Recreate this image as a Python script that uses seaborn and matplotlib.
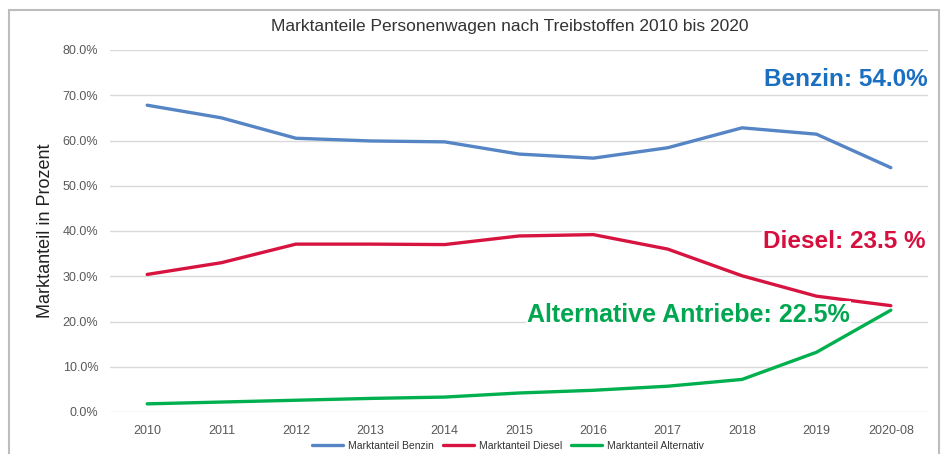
"""
Marktanteile Personenwagen nach Treibstoffen 2010 bis 2020
"""
import pandas as pd
import matplotlib.pyplot as plt
import seaborn as sns
from matplotlib.patches import Rectangle

# Daten
jahre = ['2010', '2011', '2012', '2013', '2014', '2015', '2016', '2017', '2018', '2019', '2020-08']
benzin = [67.8, 65.0, 60.5, 59.9, 59.7, 57.0, 56.1, 58.4, 62.8, 61.4, 54.0]
diesel = [30.4, 33.0, 37.1, 37.1, 37.0, 38.9, 39.2, 36.0, 30.1, 25.6, 23.5]
alternativ = [1.8, 2.2, 2.6, 3.0, 3.3, 4.2, 4.8, 5.7, 7.2, 13.2, 22.5]
serien = ['Marktanteil Benzin', 'Marktanteil Diesel', 'Marktanteil Alternativ']
farben = ['#5585c5', '#d7143f', '#00b04f']

df = pd.DataFrame({
    'jahr': jahre * 3,
    'anteil': [v / 100 for v in benzin + diesel + alternativ],
    'serie': [serien[0]] * len(jahre) + [serien[1]] * len(jahre) + [serien[2]] * len(jahre),
})

sns.set_style('white')
plt.rcParams['font.family'] = ['Liberation Sans', 'DejaVu Sans']

fig = plt.figure(figsize=(9.46, 4.54), dpi=100)
ax = fig.add_axes([110 / 946, 1 - 412 / 454, (928 - 110) / 946, (412 - 50) / 454])

# Rahmen um die Grafik
fig.patches.append(Rectangle((9 / 946, -0.1), (939 - 9) / 946, 1.1 - 10 / 454,
                             transform=fig.transFigure, fill=False,
                             edgecolor='#bdbdbd', linewidth=1.5))

sns.lineplot(data=df, x='jahr', y='anteil', hue='serie', palette=farben,
             linewidth=2.4, sort=False, ax=ax)

ax.set_xlim(-0.5, len(jahre) - 0.5)
ax.set_ylim(0, 0.8)
ax.set_yticks([i / 10 for i in range(9)])
ax.set_yticklabels([f'{i * 10:.1f}%' for i in range(9)])
ax.yaxis.grid(True, color='#d9d9d9', linewidth=1)
ax.xaxis.grid(False)
for s in ax.spines.values():
    s.set_visible(False)
ax.tick_params(axis='x', length=0, labelsize=9, labelcolor='#595959', pad=9)
ax.tick_params(axis='y', length=0, labelsize=9, labelcolor='#595959', pad=8.5)
ax.set_xlabel('')
ax.set_ylabel('Marktanteil in Prozent', fontsize=13, color='#222222', labelpad=6)

fig.text(510 / 946, 1 - 26 / 454, 'Marktanteile Personenwagen nach Treibstoffen 2010 bis 2020',
         ha='center', va='center', fontsize=12.5, color='#333333')

# Legende unten
ax.legend(loc='center', bbox_to_anchor=((508 - 110) / 818, -(446 - 412) / 362), ncol=3,
          frameon=False, fontsize=7.5, handlelength=3, columnspacing=0.8,
          handletextpad=0.5, borderaxespad=0, labelcolor='#333333')

# Beschriftungen
box = dict(facecolor='white', edgecolor='none', pad=1)
ax.text(10.5, 0.735, 'Benzin: 54.0%', ha='right', va='center', fontsize=17.5,
        fontweight='bold', color='#1a6fc0', bbox=box)
ax.text(10.47, 0.376, 'Diesel: 23.5 %', ha='right', va='center', fontsize=17.5,
        fontweight='bold', color='#d5103f', bbox=box)
ax.text(9.45, 0.215, 'Alternative Antriebe: 22.5%', ha='right', va='center', fontsize=18,
        fontweight='bold', color='#00a650', bbox=box)

plt.savefig('out.png', dpi=100)
